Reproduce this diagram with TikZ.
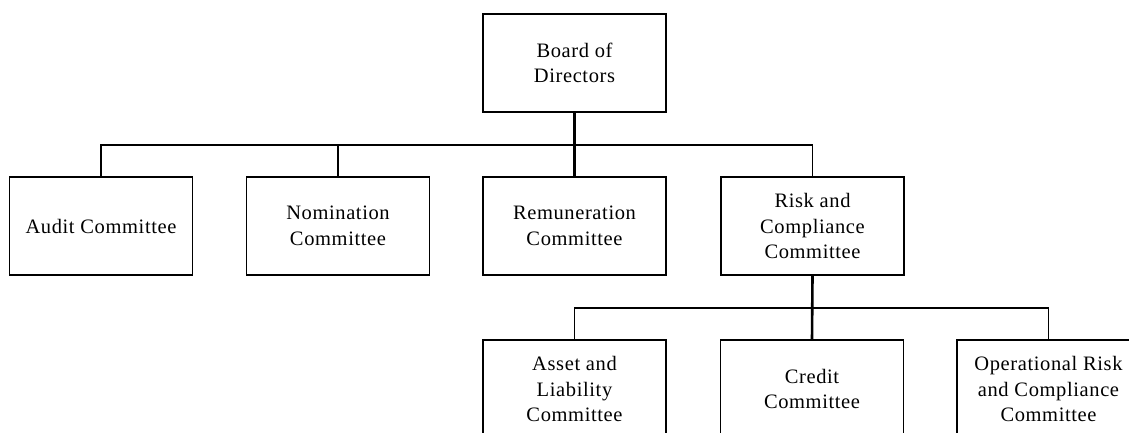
\documentclass[tikz,border=0pt]{standalone}
\usepackage{fontspec}
\setmainfont[LetterSpace=3]{Liberation Serif}
\begin{document}
\begin{tikzpicture}[x=1pt,y=1pt,
  box/.style={draw=black, line width=1.3pt, fill=white, minimum width=183pt, minimum height=98pt,
    inner sep=0pt, align=center, font=\fontsize{20.5}{25.7}\selectfont},
  link/.style={draw=black, line width=1.3pt},
  thicklink/.style={draw=black, line width=2.6pt}]
\useasboundingbox (0,0) rectangle (1129,-432);
\clip (0,0) rectangle (1129,-432);
\node[box] (board) at (574.5,-63) {Board of\\Directors};
\node[box] (audit) at (101,-226) {Audit Committee};
\node[box] (nom) at (338,-226) {Nomination\\Committee};
\node[box] (rem) at (574.5,-226) {Remuneration\\Committee};
\node[box] (risk) at (812.5,-226) {Risk and\\Compliance\\Committee};
\node[box] (asset) at (574.5,-389) {Asset and\\Liability\\Committee};
\node[box] (credit) at (812,-389) {Credit\\Committee};
\node[box] (oper) at (1048.5,-389) {Operational Risk\\and Compliance\\Committee};
\coordinate (bus1) at (0,-145);
\coordinate (bus2) at (0,-308);
\draw[link] (audit.north) |- (bus1 -| risk.north) -- (risk.north);
\draw[link] (nom.north) -- (nom.north |- bus1);
\draw[thicklink] (board.south) -- (rem.north);
\draw[link] (asset.north) |- (bus2 -| oper.north) -- (oper.north);
\draw[thicklink] (risk.south) -- (credit.north);
\end{tikzpicture}
\end{document}
